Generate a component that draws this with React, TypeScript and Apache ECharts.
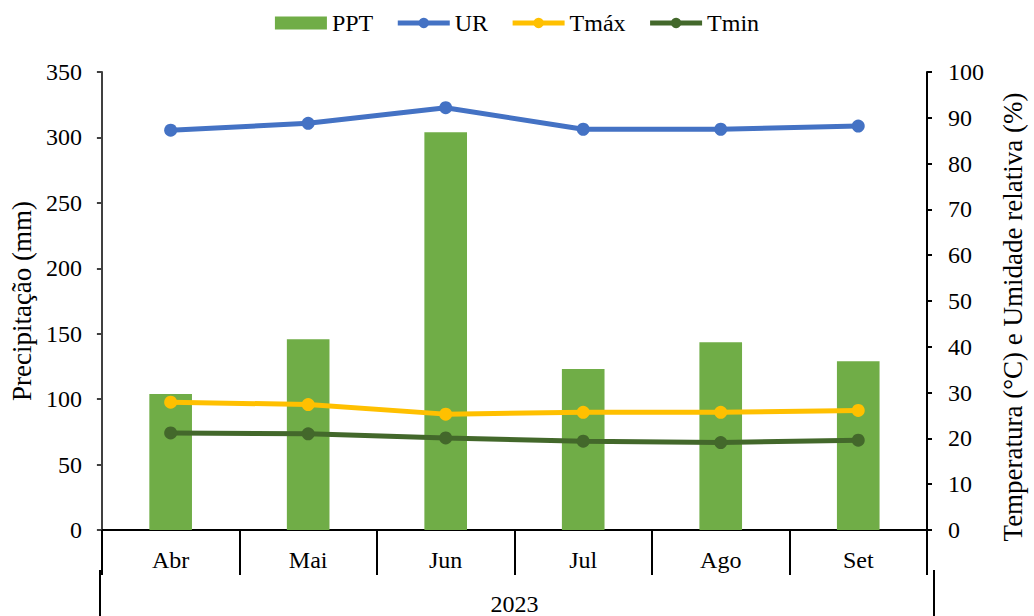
import React, { useEffect, useRef } from "react";
import * as echarts from "echarts";

const months = ["Abr", "Mai", "Jun", "Jul", "Ago", "Set"];
const yearLabel = ["2023"];
const ppt = [104, 145.7, 304, 123, 143.4, 129];
const ur = [87.3, 88.8, 92.2, 87.5, 87.5, 88.2];
const tmax = [27.9, 27.4, 25.3, 25.7, 25.7, 26.1];
const tmin = [21.2, 21.0, 20.1, 19.4, 19.1, 19.6];

const FONT = "'Liberation Serif', 'Times New Roman', serif";
const GRID_LEFT = 100;
const GRID_RIGHT = 100;
const W = 1034;
const H = 616;

export default function App() {
  const ref = useRef<HTMLDivElement>(null);
  useEffect(() => {
    const chart = echarts.init(ref.current!, null, { renderer: "svg" });
    const lineSeries = (name: string, data: number[], color: string) => ({
      name,
      type: "line",
      yAxisIndex: 1,
      data,
      symbol: "circle",
      symbolSize: 13,
      lineStyle: { width: 5, color },
      itemStyle: { color },
      z: 3,
    });
    const frameLine = (x: number) => ({
      type: "line",
      shape: { x1: x, y1: 570, x2: x, y2: H },
      style: { stroke: "#000", lineWidth: 2 },
      silent: true,
    });
    chart.setOption({
      animation: false,
      textStyle: { fontFamily: FONT, color: "#000" },
      legend: {
        top: 6,
        left: "center",
        itemGap: 22,
        itemWidth: 52,
        itemHeight: 13,
        textStyle: { fontFamily: FONT, fontSize: 24, color: "#000" },
        data: [
          { name: "PPT", icon: "rect" },
          { name: "UR", lineStyle: { width: 5 } },
          { name: "Tmáx", lineStyle: { width: 5 } },
          { name: "Tmin", lineStyle: { width: 5 } },
        ],
      },
      grid: { left: GRID_LEFT, right: GRID_RIGHT, top: 72, bottom: 86, containLabel: false },
      graphic: [frameLine(GRID_LEFT), frameLine(W - GRID_RIGHT)],
      xAxis: [
        {
          type: "category",
          data: months,
          position: "bottom",
          axisLine: { lineStyle: { color: "#000", width: 2 } },
          axisTick: { show: true, length: 45, lineStyle: { color: "#000", width: 2 } },
          axisLabel: { fontFamily: FONT, fontSize: 24, color: "#000", margin: 18 },
        },
        {
          type: "category",
          data: yearLabel,
          position: "bottom",
          offset: 44,
          axisLine: { show: false },
          axisTick: { show: false },
          axisLabel: { fontFamily: FONT, fontSize: 24, color: "#000", margin: 18 },
        },
      ],
      yAxis: [
        {
          type: "value",
          min: 0,
          max: 350,
          interval: 50,
          name: "Precipitação (mm)",
          nameLocation: "middle",
          nameGap: 62,
          nameTextStyle: { fontFamily: FONT, fontSize: 27, color: "#000" },
          axisLine: { show: true, lineStyle: { color: "#404040", width: 2 } },
          axisTick: { show: true, length: 5, lineStyle: { color: "#404040", width: 2 } },
          axisLabel: { fontFamily: FONT, fontSize: 24, color: "#000", margin: 20 },
          splitLine: { show: false },
        },
        {
          type: "value",
          min: 0,
          max: 100,
          interval: 10,
          position: "right",
          name: "Temperatura (°C) e Umidade relativa (%)",
          nameLocation: "middle",
          nameGap: 72,
          nameRotate: 90,
          nameTextStyle: { fontFamily: FONT, fontSize: 27, color: "#000", padding: [0, 32, 0, 0] },
          axisLine: { show: true, lineStyle: { color: "#000", width: 2 } },
          axisTick: { show: true, length: 5, lineStyle: { color: "#000", width: 2 } },
          axisLabel: { fontFamily: FONT, fontSize: 24, color: "#000", margin: 21 },
          splitLine: { show: false },
        },
      ],
      series: [
        {
          name: "PPT",
          type: "bar",
          yAxisIndex: 0,
          data: ppt,
          barWidth: "31%",
          itemStyle: { color: "#70AD47" },
          z: 2,
        },
        lineSeries("UR", ur, "#4472C4"),
        lineSeries("Tmáx", tmax, "#FFC000"),
        lineSeries("Tmin", tmin, "#43682B"),
      ],
    });
    return () => chart.dispose();
  }, []);
  return (
    <div
      ref={ref}
      style={{ position: "absolute", left: 0, top: 0, width: W, height: H }}
    />
  );
}
